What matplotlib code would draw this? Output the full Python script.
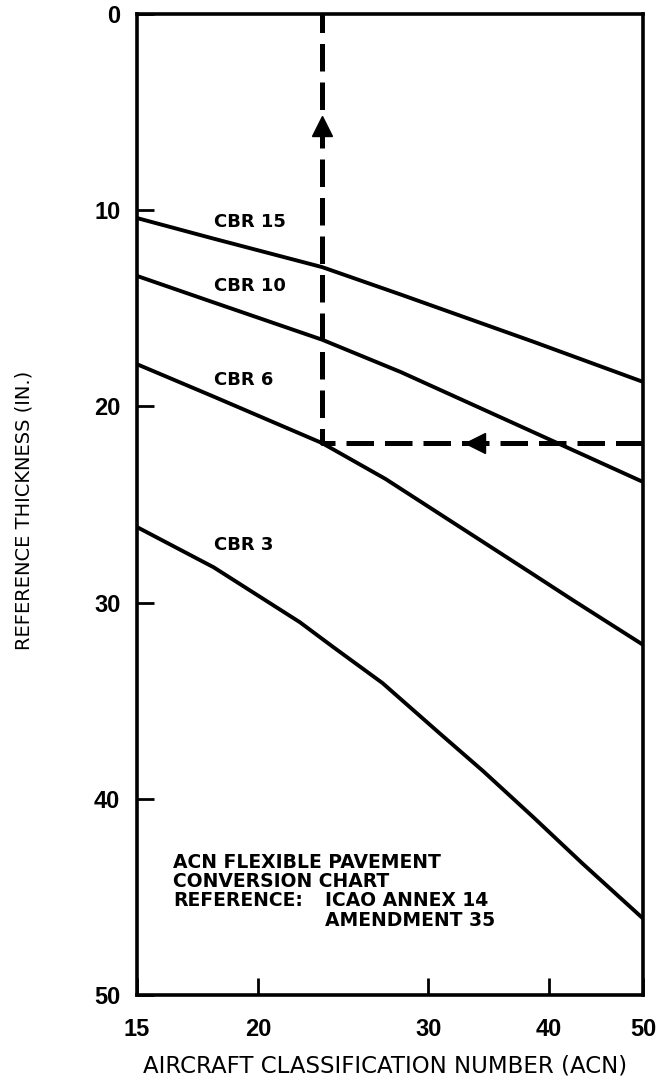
import numpy as np
import matplotlib.pyplot as plt
from matplotlib.ticker import FixedLocator, NullLocator

plt.rcParams['font.family'] = ['DejaVu Sans']

# curves: ACN (x, log scale) vs reference thickness (y, inches)
cbr15_acn = [15, 18, 23.3, 28.1, 38.5, 50]
cbr15_thk = [10.4, 11.45, 12.9, 14.3, 16.7, 18.75]
cbr10_acn = [15, 18, 23.3, 28.1, 37.3, 50]
cbr10_thk = [13.35, 14.7, 16.6, 18.25, 21.0, 23.85]
cbr6_acn = [15, 18, 23.3, 27.1, 38.2, 42.3, 50]
cbr6_thk = [17.85, 19.5, 21.87, 23.7, 28.45, 29.87, 32.15]
cbr3_acn = [15, 18, 22.1, 23.9, 26.9, 30.8, 34.2, 38.5, 43.3, 50]
cbr3_thk = [26.15, 28.2, 31.0, 32.25, 34.1, 36.65, 38.6, 40.93, 43.3, 46.1]

curves = [("CBR 15", cbr15_acn, cbr15_thk, 10.6),
          ("CBR 10", cbr10_acn, cbr10_thk, 13.86),
          ("CBR 6", cbr6_acn, cbr6_thk, 18.65),
          ("CBR 3", cbr3_acn, cbr3_thk, 27.06)]
label_acn = 18.0

# example path: read thickness at right edge, across to CBR 6, then up to ACN
path_acn = [50, 23.3, 23.3]
path_thk = [21.87, 21.87, 0]
arrow_up = (23.3, 5.7)
arrow_left = (33.5, 21.87)

x_ticks = [15, 20, 30, 40, 50]
y_ticks = [0, 10, 20, 30, 40, 50]

note_lines = ["ACN FLEXIBLE PAVEMENT", "CONVERSION CHART", "REFERENCE:"]
note_ref = ["ICAO ANNEX 14", "AMENDMENT 35"]

fig = plt.figure(figsize=(6.61, 10.86), dpi=100)
ax = fig.add_axes([137/661, 1-995/1086, 506/661, 981/1086])

for name, xs, ys, ly in curves:
    ax.plot(xs, ys, color='black', lw=2.8, solid_capstyle='butt', solid_joinstyle='round')
    ax.text(label_acn, ly, name, fontsize=13, fontweight='bold', va='center', ha='left')

ax.plot(path_acn, path_thk, color='black', lw=3.6, dashes=(5.5, 2.2))
ax.plot(*arrow_up, marker='^', markersize=15, color='black')
ax.plot(*arrow_left, marker='<', markersize=15, color='black')

ax.set_xscale('log')
ax.set_xlim(15, 50)
ax.set_ylim(50, 0)
ax.xaxis.set_major_locator(FixedLocator(x_ticks))
ax.xaxis.set_minor_locator(NullLocator())
ax.set_xticklabels([str(t) for t in x_ticks])
ax.set_yticks(y_ticks)
ax.tick_params(direction='in', length=12, width=2, labelsize=17)
ax.tick_params(axis='x', pad=16.5)
ax.tick_params(axis='y', pad=12)
for lab in ax.get_xticklabels() + ax.get_yticklabels():
    lab.set_fontweight('bold')
    lab.set_family('Liberation Sans')
for s in ax.spines.values():
    s.set_linewidth(2.6)

line_y = [43.27, 44.24, 45.2, 46.18]
for i, t in enumerate(note_lines):
    ax.text(0.071, line_y[i], t, transform=ax.get_yaxis_transform(), fontsize=13.5, fontweight='bold', va='center')
for i, t in enumerate(note_ref):
    ax.text(0.372, line_y[i + 2], t, transform=ax.get_yaxis_transform(), fontsize=13.5, fontweight='bold', va='center')

fig.text(24/661, 1-510/1086, "REFERENCE THICKNESS (IN.)", rotation=90, ha='center', va='center', fontsize=14)
fig.text(385/661, 1-1066/1086, "AIRCRAFT CLASSIFICATION NUMBER (ACN)", ha='center', va='center', fontsize=16.5)

fig.savefig('out.png', dpi=100)
